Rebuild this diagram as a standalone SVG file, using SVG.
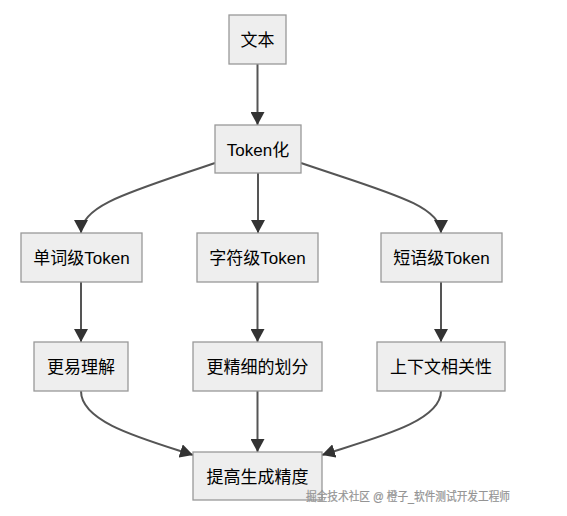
<svg xmlns="http://www.w3.org/2000/svg" width="567" height="516" viewBox="0 0 567 516">
<defs>
<marker id="arrow" viewBox="0 0 13 14" refX="13" refY="7" markerWidth="13" markerHeight="14" markerUnits="userSpaceOnUse" orient="auto">
<path d="M0,0 L13,7 L0,14 z" fill="#333"/>
</marker>
<style>
.node rect{fill:#eeeeee;stroke:#999;stroke-width:1.3}
.node text{font-family:"Liberation Sans","Noto Sans CJK SC",sans-serif;font-size:17px;fill:#000;text-anchor:middle;dominant-baseline:central}
.edge{fill:none;stroke:#555;stroke-width:2;marker-end:url(#arrow)}
.wm{font-family:"Liberation Sans","Noto Sans CJK SC",sans-serif;font-size:12px;fill:#999;stroke:#888;stroke-width:0.2}
</style>
</defs>
<rect width="567" height="516" fill="#fff"/>
<g id="edges">
<path class="edge" d="M257.5,64 L257.5,125"/>
<path class="edge" d="M215,163 C130,192 81,205 81,233"/>
<path class="edge" d="M258,173 L258,233"/>
<path class="edge" d="M301,163 C386,192 441,205 441,233"/>
<path class="edge" d="M81,282 L81,342"/>
<path class="edge" d="M257.5,282 L257.5,342"/>
<path class="edge" d="M441,282 L441,342"/>
<path class="edge" d="M81,391 C81,422 140,438 193,455"/>
<path class="edge" d="M257.5,391 L257.5,452"/>
<path class="edge" d="M441,391 C441,422 375,438 322,455"/>
</g>
<g id="n1" class="node"><rect x="229" y="15" width="57" height="49"/><text x="257.5" y="40">文本</text></g>
<g id="n2" class="node"><rect x="215" y="125" width="86" height="48"/><text x="258" y="150">Token化</text></g>
<g id="n3" class="node"><rect x="21" y="233" width="121" height="49"/><text x="81.5" y="258">单词级Token</text></g>
<g id="n4" class="node"><rect x="197" y="233" width="121" height="49"/><text x="257.5" y="258">字符级Token</text></g>
<g id="n5" class="node"><rect x="381" y="233" width="121" height="49"/><text x="441.5" y="258">短语级Token</text></g>
<g id="n6" class="node"><rect x="34" y="342" width="94" height="49"/><text x="81" y="367">更易理解</text></g>
<g id="n7" class="node"><rect x="193" y="342" width="129" height="49"/><text x="257.5" y="367">更精细的划分</text></g>
<g id="n8" class="node"><rect x="377" y="342" width="128" height="49"/><text x="441" y="367">上下文相关性</text></g>
<g id="n9" class="node"><rect x="193" y="452" width="129" height="48"/><text x="257.5" y="477">提高生成精度</text></g>
<text class="wm" x="306" y="501" textLength="204" lengthAdjust="spacingAndGlyphs">掘金技术社区 @ 橙子_软件测试开发工程师</text>
</svg>
